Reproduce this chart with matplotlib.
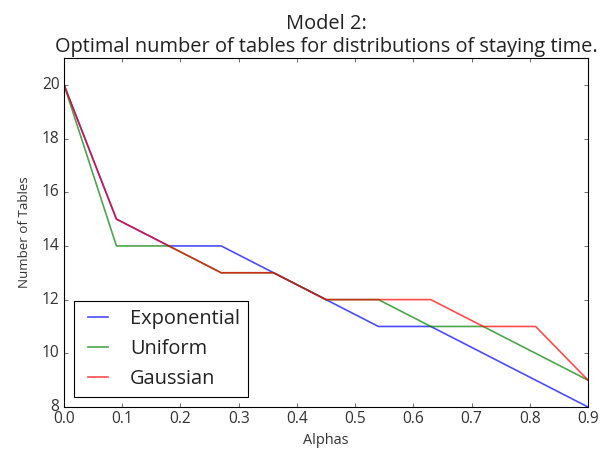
import numpy as np
import matplotlib
matplotlib.use("Agg")
import matplotlib.pyplot as plt

plt.style.use("classic")
plt.rcParams["font.family"] = ["Open Sans", "DejaVu Sans"]

alphas = [0.0, 0.09, 0.18, 0.27, 0.36, 0.45, 0.54, 0.63, 0.72, 0.81, 0.9]
exponential = [20, 15, 14, 14, 13, 12, 11, 11, 10, 9, 8]
uniform = [20, 14, 14, 13, 13, 12, 12, 11, 11, 10, 9]
gaussian = [20, 15, 14, 13, 13, 12, 12, 12, 11, 11, 9]

fig = plt.figure(figsize=(7.5, 455 / 80), dpi=80)
fig.patch.set_facecolor("white")
ax = fig.add_axes([0.1067, 0.1055, 0.8733, 0.767])

ax.plot(alphas, exponential, "b", alpha=0.7, lw=1.5, label="Exponential")
ax.plot(alphas, uniform, "g", alpha=0.7, lw=1.5, label="Uniform")
ax.plot(alphas, gaussian, "r", alpha=0.7, lw=1.5, label="Gaussian")

ax.set_xlim(0, 0.9)
ax.set_ylim(8, 21)
ax.set_yticks(np.arange(8, 21, 2))
ax.set_xlabel("Alphas", fontsize=13, color="#333333")
ax.set_ylabel("Number of Tables", fontsize=12, color="#333333", labelpad=10)
ax.tick_params(labelsize=14, labelcolor="#333333")
ax.set_title("Model 2:\nOptimal number of tables for distributions of staying time.",
             fontsize=18, color="#222222")
leg = ax.legend(loc="lower left", fontsize=18, handlelength=1.6)
for t in leg.get_texts():
    t.set_color("#222222")

fig.savefig("out.png", dpi=80, facecolor="white")
